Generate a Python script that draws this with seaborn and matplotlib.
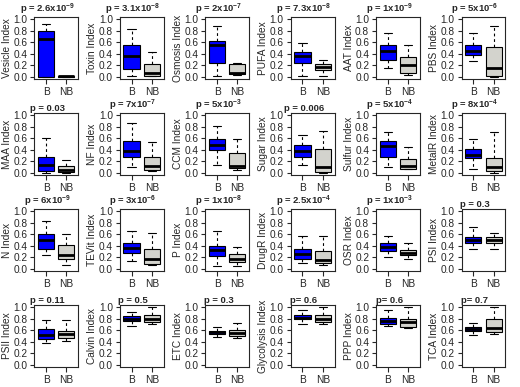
# Metabolic index scores, bloom-forming (B) vs non-bloom (NB) strains
# 24 small boxplots, R-style: blue/grey boxes, dashed whiskers, thick medians.

import numpy as np
import pandas as pd
import matplotlib
matplotlib.use("Agg")
import matplotlib.pyplot as plt
import seaborn as sns

index_names = [
    "Vesicle", "Toxin", "Osmosis", "PUFA", "AAT", "PBS",
    "MAA", "NF", "CCM", "Sugar", "Sulfur", "MetalR",
    "N", "TEVit", "P", "DrugR", "OSR", "PSI",
    "PSII", "Calvin", "ETC", "Glycolysis", "PPP", "TCA",
]

p_labels = [
    r"p = 2.6x10$^{-9}$", r"p = 3.1x10$^{-8}$", r"p = 2x10$^{-7}$",
    r"p = 7.3x10$^{-8}$", r"p = 1x10$^{-9}$", r"p = 5x10$^{-6}$",
    "p = 0.03", r"p = 7x10$^{-7}$", r"p = 5x10$^{-3}$",
    "p = 0.006", r"p = 5x10$^{-4}$", r"p = 8x10$^{-4}$",
    r"p = 6x10$^{-9}$", r"p = 3x10$^{-6}$", r"p = 1x10$^{-8}$",
    r"p = 2.5x10$^{-4}$", r"p = 1x10$^{-3}$", "p = 0.3",
    "p = 0.11", "p = 0.5", "p = 0.3",
    "p= 0.6", "p= 0.6", "p= 0.7",
]

# five-number summaries: low whisker, Q1, median, Q3, high whisker
b_stats = [
    [0.00, 0.00, 0.65, 0.80, 0.92], [0.01, 0.14, 0.36, 0.55, 0.83],
    [0.02, 0.24, 0.56, 0.62, 0.88], [0.02, 0.24, 0.36, 0.43, 0.58],
    [0.15, 0.29, 0.45, 0.55, 0.76], [0.28, 0.38, 0.45, 0.56, 0.77],
    [0.00, 0.02, 0.14, 0.27, 0.61], [0.10, 0.27, 0.38, 0.55, 0.87],
    [0.14, 0.39, 0.48, 0.58, 0.81], [0.14, 0.27, 0.37, 0.48, 0.66],
    [0.09, 0.27, 0.46, 0.56, 0.70], [0.06, 0.25, 0.31, 0.41, 0.59],
    [0.23, 0.35, 0.50, 0.61, 0.83], [0.13, 0.28, 0.36, 0.44, 0.65],
    [0.05, 0.22, 0.33, 0.40, 0.66], [0.09, 0.16, 0.26, 0.35, 0.57],
    [0.21, 0.30, 0.37, 0.44, 0.57], [0.34, 0.44, 0.50, 0.55, 0.72],
    [0.37, 0.45, 0.52, 0.62, 0.78], [0.68, 0.76, 0.80, 0.84, 0.91],
    [0.48, 0.53, 0.56, 0.59, 0.65], [0.71, 0.79, 0.82, 0.87, 0.96],
    [0.67, 0.70, 0.76, 0.82, 0.95], [0.52, 0.58, 0.62, 0.65, 0.72],
]
nb_stats = [
    [0.00, 0.00, 0.01, 0.02, 0.02], [0.01, 0.02, 0.07, 0.22, 0.43],
    [0.03, 0.04, 0.06, 0.22, 0.23], [0.02, 0.11, 0.16, 0.22, 0.29],
    [0.03, 0.07, 0.20, 0.34, 0.55], [0.00, 0.01, 0.15, 0.51, 0.89],
    [0.00, 0.01, 0.04, 0.11, 0.22], [0.02, 0.05, 0.11, 0.28, 0.54],
    [0.05, 0.08, 0.12, 0.34, 0.58], [0.00, 0.01, 0.10, 0.41, 0.72],
    [0.06, 0.07, 0.12, 0.24, 0.45], [0.00, 0.03, 0.09, 0.26, 0.71],
    [0.07, 0.17, 0.23, 0.41, 0.61], [0.06, 0.08, 0.17, 0.35, 0.62],
    [0.05, 0.11, 0.16, 0.26, 0.38], [0.06, 0.09, 0.15, 0.31, 0.56],
    [0.17, 0.23, 0.27, 0.33, 0.45], [0.35, 0.45, 0.50, 0.55, 0.62],
    [0.42, 0.46, 0.53, 0.59, 0.77], [0.70, 0.74, 0.80, 0.86, 1.01],
    [0.47, 0.50, 0.55, 0.61, 0.72], [0.71, 0.74, 0.80, 0.87, 1.00],
    [0.64, 0.66, 0.75, 0.80, 1.01], [0.53, 0.56, 0.64, 0.80, 1.01],
]

groups = ["B", "NB"]
box_colors = {"B": "#0000FF", "NB": "#D3D3CD"}

sns.set_style("ticks")
plt.rcParams["font.family"] = ["Liberation Sans", "DejaVu Sans"]
plt.rcParams["mathtext.fontset"] = "custom"
plt.rcParams["mathtext.rm"] = "Liberation Sans:bold"
plt.rcParams["mathtext.bf"] = "Liberation Sans:bold"
plt.rcParams["axes.linewidth"] = 0.8

fig, axes = plt.subplots(4, 6, figsize=(5.2, 3.87), dpi=100)
fig.subplots_adjust(left=0.066, right=0.972, top=0.956, bottom=0.052,
                    wspace=0.95, hspace=0.55)

for i, ax in enumerate(axes.flat):
    df = pd.DataFrame({
        "group": ["B"] * 5 + ["NB"] * 5,
        "value": b_stats[i] + nb_stats[i],
    })
    sns.boxplot(
        data=df, x="group", y="value", hue="group", order=groups,
        palette=box_colors, saturation=1, legend=False, whis=(0, 100),
        width=0.8, linecolor="black", linewidth=0.8, ax=ax,
        medianprops=dict(linewidth=2.0),
        whiskerprops=dict(linestyle=(0, (2.5, 2.5))),
    )
    ax.set_xlim(-0.58, 1.58)
    ax.set_ylim(-0.04, 1.04)
    ax.set_yticks([0.0, 0.2, 0.4, 0.6, 0.8, 1.0])
    ax.set_yticklabels(["0.0", "0.2", "0.4", "0.6", "0.8", "1.0"])
    ax.tick_params(axis="y", labelsize=7.3, length=3, width=0.8, pad=2)
    ax.tick_params(axis="x", labelsize=7.3, length=3.5, width=0.8, pad=2)
    ax.set_xlabel("")
    ax.set_ylabel(index_names[i] + " Index", fontsize=7.3, labelpad=1)
    ax.set_title(p_labels[i], fontsize=6.8, fontweight="bold", x=0.3, pad=1.5)
    for s in ax.spines.values():
        s.set_visible(True)
        s.set_linewidth(0.8)

fig.savefig("out.png", dpi=100)
